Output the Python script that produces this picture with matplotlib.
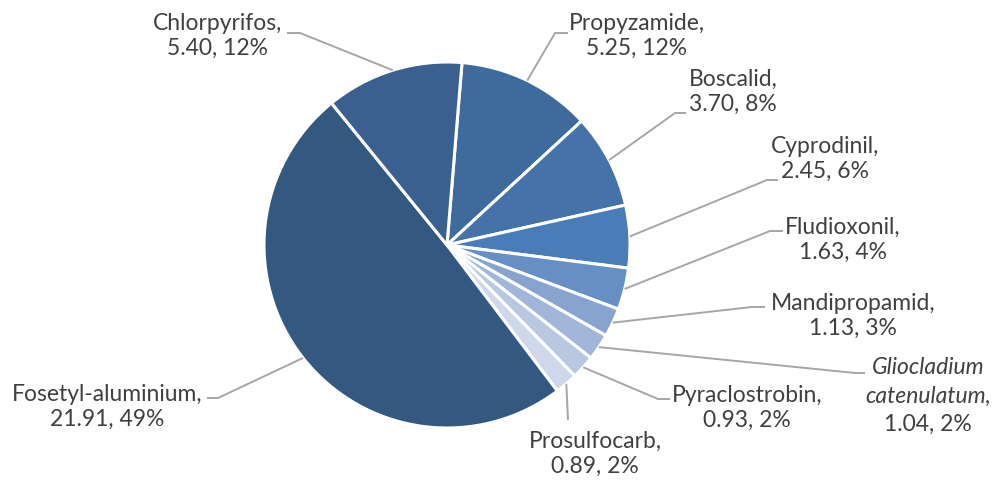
import numpy as np
import matplotlib
matplotlib.use("Agg")
import matplotlib.pyplot as plt

# Data (clockwise from top)
names = ["Propyzamide", "Boscalid", "Cyprodinil", "Fludioxonil", "Mandipropamid",
         "Gliocladium catenulatum", "Pyraclostrobin", "Prosulfocarb",
         "Fosetyl-aluminium", "Chlorpyrifos"]
values = [5.25, 3.70, 2.45, 1.63, 1.13, 1.04, 0.93, 0.89, 21.91, 5.40]
colors = ["#3F6A9C", "#4572A8", "#4A7CB8", "#668FC5", "#88A3CE",
          "#A3B5D9", "#B9C7E1", "#CED8EA", "#34587F", "#3B5F8E"]

# Layout (pixel coordinates, y from top): label centre, elbow point
label_pos = {
    "Propyzamide": (637, 36), "Boscalid": (733, 92), "Cyprodinil": (825, 159),
    "Fludioxonil": (843, 240), "Mandipropamid": (853, 316),
    "Gliocladium catenulatum": (928, 396), "Pyraclostrobin": (747, 408),
    "Prosulfocarb": (595, 454), "Fosetyl-aluminium": (107, 407),
    "Chlorpyrifos": (218, 36),
}
leader = {
    "Propyzamide": [(555, 33), (568, 33)],
    "Boscalid": [(675, 113), (686, 113)],
    "Cyprodinil": [(767, 180), (778, 180)],
    "Fludioxonil": [(770, 231), (783, 231)],
    "Mandipropamid": [(752, 307), (765, 307)],
    "Gliocladium catenulatum": [(855, 373), (865, 373)],
    "Pyraclostrobin": [(658, 399), (670, 399)],
    "Prosulfocarb": [(568, 420)],
    "Fosetyl-aluminium": [(218, 398), (207, 398)],
    "Chlorpyrifos": [(300, 33), (287, 33)],
}

W, H = 1002, 480
fig = plt.figure(figsize=(W / 100, H / 100), dpi=100)
ax = fig.add_axes([0, 0, 1, 1])

cx, cy, R = 447, H - 245, 183
start = 90 - 4.7
wedges, _ = ax.pie(values, colors=colors, startangle=start, counterclock=False,
                   center=(cx, cy), radius=R, frame=True,
                   wedgeprops=dict(edgecolor="white", linewidth=2.2))
ax.set_xlim(0, W)
ax.set_ylim(0, H)
ax.set_aspect("equal")
ax.axis("off")

total = sum(values)
txtc = "#404040"
linec = "#A6A6A6"
font = "Lato"
fs = 16.5

for w, name, v in zip(wedges, names, values):
    ang = np.deg2rad((w.theta1 + w.theta2) / 2)
    ax_pt = (cx + R * np.cos(ang), cy + R * np.sin(ang))
    pts = [ax_pt] + [(x, H - y) for x, y in leader[name]]
    xs, ys = zip(*pts)
    ax.plot(xs, ys, color=linec, lw=1.4, solid_capstyle="butt")
    pct = round(v / total * 100)
    lx, ly = label_pos[name]
    second = f"{v:.2f}, {pct}%"
    if name == "Gliocladium catenulatum":
        a, b = name.split()
        ax.text(lx, H - (ly - 28), a, ha="center", va="center", fontsize=fs,
                fontstyle="italic", color=txtc, family=font)
        ax.text(lx, H - ly, b + ",", ha="center", va="center", fontsize=fs,
                fontstyle="italic", color=txtc, family=font)
        ax.text(lx, H - (ly + 28), second, ha="center", va="center", fontsize=fs,
                color=txtc, family=font)
    else:
        ax.text(lx, H - ly, f"{name},\n{second}", ha="center", va="center",
                fontsize=fs, color=txtc, family=font, linespacing=1.2)

fig.savefig("out.png", dpi=100)
